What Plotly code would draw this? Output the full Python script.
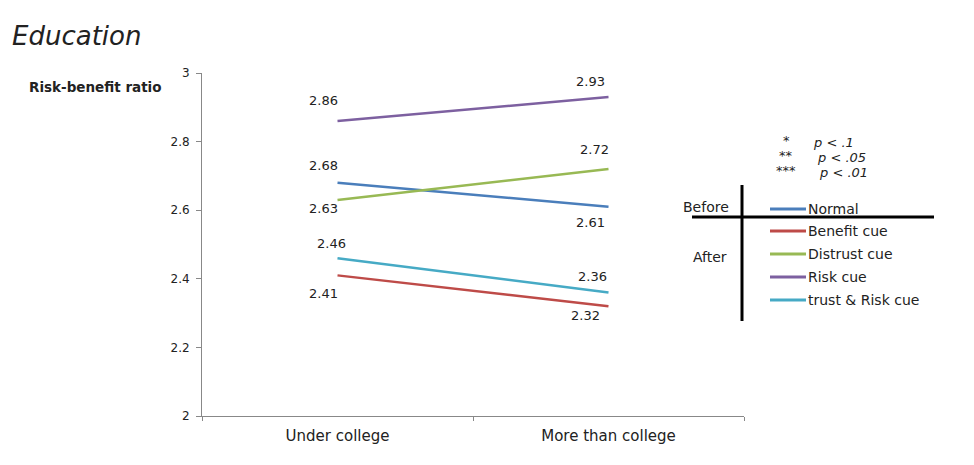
import plotly.graph_objects as go

categories = ["Under college", "More than college"]
series_names = ["Normal", "Benefit cue", "Distrust cue", "Risk cue", "trust & Risk cue"]
normal = [2.68, 2.61]
benefit_cue = [2.41, 2.32]
distrust_cue = [2.63, 2.72]
risk_cue = [2.86, 2.93]
trust_risk_cue = [2.46, 2.36]
y_ticks = [2, 2.2, 2.4, 2.6, 2.8, 3]
sig_stars = ["*", "**", "***"]
sig_levels = ["p < .1", "p < .05", "p < .01"]

colors = ["#4A7EBB", "#BE4B48", "#98B954", "#7D60A0", "#46AAC5"]
# label offsets (px) for start / end value labels of each series
label_shift = [
    [(-14, 17), (-18, -16)],
    [(-14, -18), (-23, -9)],
    [(-14, -9), (-14, 20)],
    [(-14, 21), (-18, 16)],
    [(-6, 15), (-16, 16)],
]

font = "DejaVu Sans"
txt_col = "#222"
values = [normal, benefit_cue, distrust_cue, risk_cue, trust_risk_cue]

# plot area in page pixels: x 202..744, y 73..416 (page has 8px body margin)
X0, X1, Y0, Y1 = 202, 744, 73, 416


def px(x):
    return (x - X0) / (X1 - X0)


def py(y):
    return (Y1 - y) / (Y1 - Y0)


def note(x, y, text, size=14, anchor="left"):
    fig.add_annotation(xref="paper", yref="paper", x=px(x), y=py(y), text=text,
                       showarrow=False, xanchor=anchor, yanchor="middle",
                       font=dict(family=font, size=size, color=txt_col))


fig = go.Figure()
for name, vals, col in zip(series_names, values, colors):
    fig.add_trace(go.Scatter(x=categories, y=vals, mode="lines", name=name,
                             line=dict(color=col, width=2.5)))

# data labels
for vals, shifts in zip(values, label_shift):
    for cat, v, (dx, dy) in zip(categories, vals, shifts):
        fig.add_annotation(x=cat, y=v, text=f"{v:.2f}", showarrow=False,
                           xshift=dx, yshift=dy, xanchor="center", yanchor="middle",
                           font=dict(family=font, size=13, color=txt_col))

# custom legend on the right
leg_y = [209, 231, 254, 277, 300]
for name, col, yy in zip(series_names, colors, leg_y):
    fig.add_shape(type="line", xref="paper", yref="paper",
                  x0=px(770), x1=px(806), y0=py(yy), y1=py(yy),
                  line=dict(color=col, width=3))
    note(806, yy, name, size=14)

fig.add_shape(type="line", xref="paper", yref="paper",
              x0=px(742), x1=px(742), y0=py(185), y1=py(321),
              line=dict(color="black", width=3))
fig.add_shape(type="line", xref="paper", yref="paper",
              x0=px(692), x1=px(934), y0=py(217), y1=py(217),
              line=dict(color="black", width=3))
note(706, 207, "Before", anchor="center")
note(710, 257, "After", anchor="center")

# significance notes
for star, lvl, yy, xp in zip(sig_stars, sig_levels, [142, 157, 172], [811, 815, 817]):
    note(786, yy - 2, star, size=13, anchor="center")
    note(xp, yy, f"<i>{lvl}</i>", size=13)

note(10, 36, "<i>Education</i>", size=26)
note(27, 87, "<b>Risk-benefit ratio</b>", size=13.5)

fig.update_xaxes(type="category", range=[-0.5, 1.5], showline=True, linecolor="#888",
                 ticks="outside", tickson="boundaries", ticklen=4, tickcolor="#888",
                 showgrid=False, zeroline=False, ticklabelstandoff=6,
                 tickfont=dict(family=font, size=15, color=txt_col))
fig.update_yaxes(range=[2, 3], tickvals=y_ticks, showline=True, linecolor="#888",
                 ticks="outside", ticklen=5, tickcolor="#888", showgrid=False, zeroline=False,
                 ticklabelstandoff=4,
                 tickfont=dict(family=font, size=12, color=txt_col))

fig.update_layout(width=958, height=449, showlegend=False,
                  margin=dict(l=X0 - 8, r=958 + 8 - X1, t=Y0 - 8, b=449 + 8 - Y1),
                  plot_bgcolor="white", paper_bgcolor="white")

fig.write_html("out.html")
